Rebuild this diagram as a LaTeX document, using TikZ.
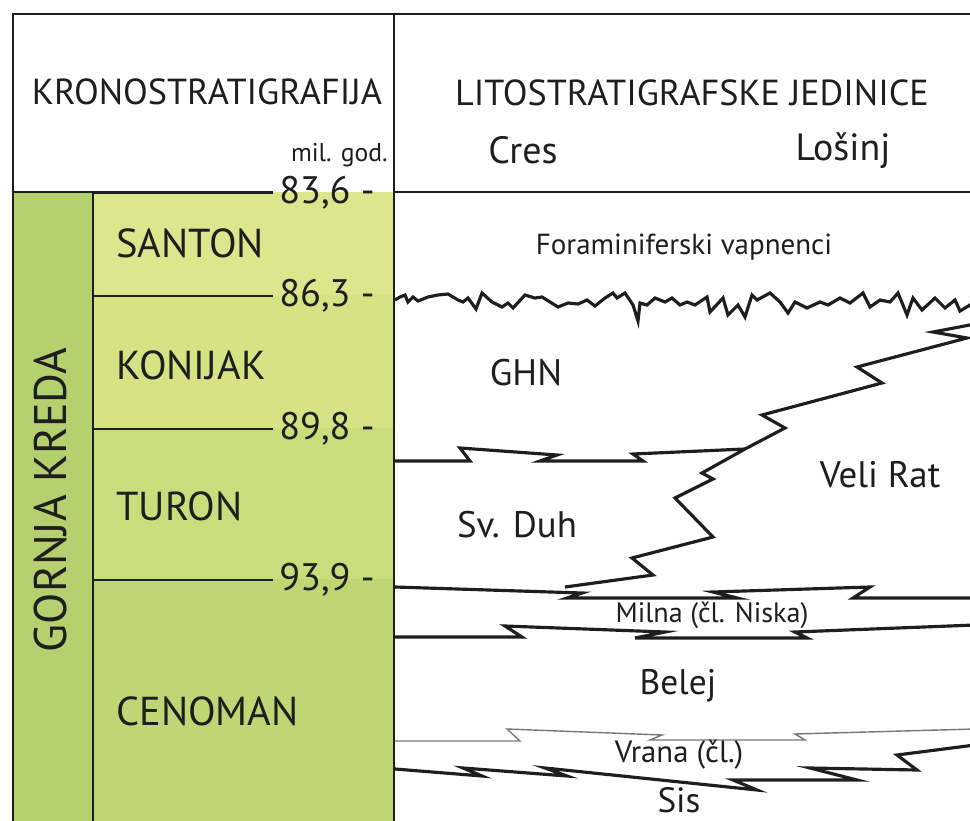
\documentclass[tikz,border=0pt]{standalone}
\usepackage{fontspec}
\setmainfont{PT Sans}
\usetikzlibrary{positioning}
\definecolor{kreda}{RGB}{181,208,110}
\definecolor{santon}{RGB}{221,230,140}
\definecolor{konijak}{RGB}{214,227,133}
\definecolor{turon}{RGB}{201,221,124}
\definecolor{cenoman}{RGB}{190,214,115}
\definecolor{ink}{RGB}{30,30,30}
\tikzset{
  frame/.style={draw=ink,line width=1.7pt},
  tick/.style={draw=ink,line width=1.4pt},
  litho/.style={draw=ink,line width=1.8pt,line join=miter},
  thin litho/.style={draw=ink!60,line width=0.8pt,line join=miter},
  head/.style={font=\fontsize{20.6}{20.6}\selectfont,text=ink,inner sep=0pt},
  stage/.style={font=\fontsize{23}{23}\selectfont,text=ink,inner sep=0pt,anchor=west},
  age/.style={font=\fontsize{21.8}{21.8}\selectfont,text=ink,inner sep=0pt,anchor=west},
  unit/.style={font=\fontsize{21}{21}\selectfont,text=ink,inner sep=0pt},
  small unit/.style={font=\fontsize{16.5}{16.5}\selectfont,text=ink,inner sep=0pt},
}

\begin{document}
\begin{tikzpicture}[x=0.02cm,y=-0.02cm]
  \useasboundingbox (0,0) rectangle (970,821);
  \clip (0,0) rectangle (970,821);

  % stupac kronostratigrafije
  \fill[kreda] (13,192) rectangle (93,830);
  \foreach \st/\top/\bot/\c/\ty [count=\i] in {
    SANTON/192/295/santon/243,
    KONIJAK/295/428/konijak/365,
    TURON/428/579/turon/506,
    CENOMAN/579/830/cenoman/711}
  {
    \fill[\c] (93,\top) rectangle (394,\bot);
    \node[stage] (st\i) at (116,\ty) {\st};
  }
  \foreach \a/\y [count=\i] in {83{,}6 -/193, 86{,}3 -/296, 89{,}8 -/429, 93{,}9 -/580}
  {
    \draw[tick] (93,\y) -- (273,\y);
    \node[age] (age\i) at (279,\y) {\a};
  }
  \node[font=\fontsize{26}{26}\selectfont,text=ink,inner sep=0pt,rotate=90] (gk) at (51,500) {GORNJA KREDA};

  % okvir
  \draw[frame] (13,830) -- (13,14) -- (980,14);
  \draw[frame] (394,14) -- (394,830);
  \draw[frame] (93,192) -- (93,830);
  \draw[frame] (13,192) -- (273,192);
  \draw[frame] (394,192) -- (980,192);

  \node[head] (kron) at (207,92) {KRONOSTRATIGRAFIJA};
  \node[font=\fontsize{14.6}{14.6}\selectfont,text=ink,inner sep=0pt,anchor=east] (milgod) at (388,155) {mil. god.};
  \node[head] (lito) at (692,93) {LITOSTRATIGRAFSKE JEDINICE};
  \node[head,font=\fontsize{21.6}{21.6}\selectfont] (cres) at (523,150) {Cres};
  \node[head,font=\fontsize{21.6}{21.6}\selectfont] (losinj) at (843,151) {Lošinj};

  % granice jedinica
  \draw[litho] (395,300) -- (400,297) -- (405,295) -- (408,302) -- (413,297) -- (418,301)
    -- (428,297) -- (438,295) -- (448,294) -- (458,300) -- (463,302) -- (468,298) -- (476,309)
    -- (482,293) -- (492,302) -- (502,307) -- (508,303) -- (513,308) -- (525,295) -- (535,298)
    -- (542,297) -- (558,307) -- (568,303) -- (578,304) -- (587,300) -- (595,306) -- (605,298)
    -- (613,293) -- (617,298) -- (625,293) -- (633,305) -- (638,321) -- (640,303) -- (647,305)
    -- (655,298) -- (665,302) -- (672,298) -- (680,305) -- (687,302) -- (695,305) -- (707,297)
    -- (710,312) -- (723,298) -- (728,315) -- (738,305) -- (745,317) -- (752,295) -- (757,300)
    -- (770,293) -- (780,302) -- (788,313) -- (795,302) -- (807,308) -- (820,302) -- (828,305)
    -- (840,298) -- (850,303) -- (863,293) -- (870,307) -- (880,300) -- (890,302) -- (898,293)
    -- (907,315) -- (913,298) -- (922,310) -- (935,298) -- (945,308) -- (955,300) -- (960,311)
    -- (975,302);
  \draw[litho] (975,324) -- (933,332) -- (967,338) -- (857,367) -- (882,383) -- (762,415)
    -- (785,428) -- (745,449) -- (702,473) -- (713,479) -- (675,498) -- (713,537) -- (632,558)
    -- (653,575) -- (565,587);
  \draw[litho] (395,461) -- (470,461) -- (460,448) -- (557,455) -- (540,461) -- (643,461)
    -- (633,454) -- (745,449);
  \draw[litho] (395,587) -- (582,593) -- (567,598) -- (737,598) -- (713,592) -- (870,587)
    -- (853,598) -- (975,598);
  \draw[litho] (395,637) -- (522,637) -- (505,626) -- (665,632) -- (635,638) -- (807,638)
    -- (795,632) -- (975,625);
  \draw[thin litho] (395,741) -- (520,741) -- (507,729) -- (662,735) -- (650,740) -- (805,740)
    -- (795,734) -- (975,729);
  \draw[litho] (395,769) -- (482,776) -- (463,768) -- (567,776) -- (545,768) -- (757,790)
    -- (733,780) -- (857,780) -- (810,768) -- (917,770) -- (897,755) -- (975,745);

  \node[small unit] (foram) at (684,247) {Foraminiferski vapnenci};
  \node[unit] (ghn) at (526,373) {GHN};
  \node[unit] (svduh) at (517,525) {Sv. Duh};
  \node[unit] (velirat) at (880,475) {Veli Rat};
  \node[small unit,font=\fontsize{16}{16}\selectfont] (milna) at (712,615) {Milna (čl. Niska)};
  \node[unit,font=\fontsize{20.2}{20.2}\selectfont] (belej) at (678,686) {Belej};
  \node[small unit,font=\fontsize{17.5}{17.5}\selectfont] (vrana) at (679,755) {Vrana (čl.)};
  \node[unit,font=\fontsize{20}{20}\selectfont] (sis) at (679,800) {Sis};
\end{tikzpicture}
\end{document}
